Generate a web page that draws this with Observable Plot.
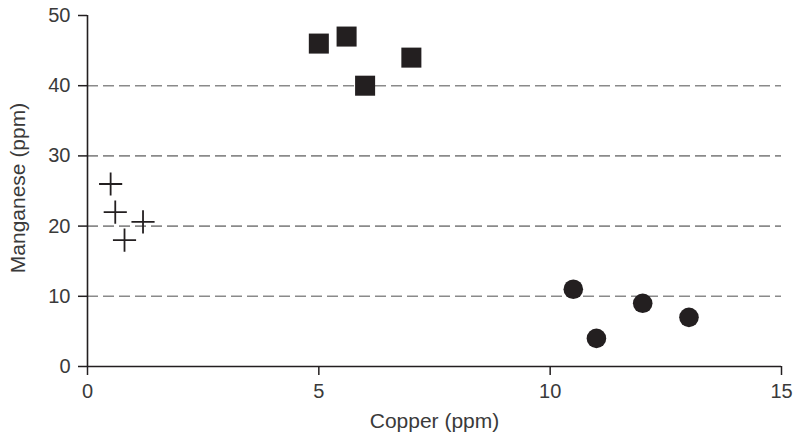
<!DOCTYPE html>
<html>
<head>
<meta charset="utf-8">
<script src="https://cdn.jsdelivr.net/npm/d3@7"></script>
<script src="https://cdn.jsdelivr.net/npm/@observablehq/plot@0.6"></script>
<style>
  html, body { margin: 0; padding: 0; background: #fff; }
  #chart svg { display: block; }
</style>
</head>
<body>
<div id="chart"></div>
<script>
// Data
const groups = ["cross", "square", "circle"];
const crossCopper = [0.5, 0.6, 0.8, 1.2];
const crossManganese = [26, 22, 18, 20.6];
const squareCopper = [5.0, 5.6, 6.0, 7.0];
const squareManganese = [46, 47, 40, 44];
const circleCopper = [10.5, 11.0, 12.0, 13.0];
const circleManganese = [11, 4, 9, 7];
const xTicks = [0, 5, 10, 15];
const yTicks = [0, 10, 20, 30, 40, 50];
const gridTicks = [10, 20, 30, 40];
const xLabel = "Copper (ppm)";
const yLabel = "Manganese (ppm)";

const toRows = (xs, ys) => xs.map((x, i) => ({copper: x, manganese: ys[i]}));
const crosses = toRows(crossCopper, crossManganese);
const squares = toRows(squareCopper, squareManganese);
const circles = toRows(circleCopper, circleManganese);

const ink = "#231f20";
const textInk = "#3a3a3a";

const chart = Plot.plot({
  width: 801,
  height: 437,
  marginLeft: 87,
  marginRight: 20,
  marginTop: 15,
  marginBottom: 71,
  style: {fontFamily: "'Liberation Sans', Arial, sans-serif", color: textInk, background: "#fff"},
  x: {domain: [0, 15]},
  y: {domain: [0, 50]},
  marks: [
    Plot.gridY(gridTicks, {stroke: "#8a8a8a", strokeOpacity: 1, strokeWidth: 1.6, strokeDasharray: "11,5"}),
    Plot.axisX(xTicks, {tickSize: 9, tickPadding: 8, fontSize: 20, stroke: ink, strokeWidth: 1.5, label: null}),
    Plot.axisY(yTicks, {tickSize: 9, tickPadding: 8, fontSize: 20, stroke: ink, strokeWidth: 1.5, label: null}),
    Plot.ruleX([0], {stroke: ink, strokeWidth: 1.6}),
    Plot.ruleY([0], {stroke: ink, strokeWidth: 1.6}),
    Plot.dot(crosses, {x: "copper", y: "manganese", symbol: "plus", r: 7.5, stroke: ink, strokeWidth: 1.8}),
    Plot.dot(squares, {x: "copper", y: "manganese", symbol: "square", r: 11.3, fill: ink, stroke: "none"}),
    Plot.dot(circles, {x: "copper", y: "manganese", symbol: "circle", r: 9.8, fill: ink, stroke: "none"}),
    Plot.text([xLabel], {frameAnchor: "bottom", dy: 55, lineAnchor: "middle", textAnchor: "middle", fontSize: 21, fill: textInk}),
    Plot.text([yLabel], {frameAnchor: "left", dx: -69, dy: -3, rotate: -90, lineAnchor: "middle", textAnchor: "middle", fontSize: 21, fill: textInk})
  ]
});
document.getElementById("chart").appendChild(chart);
</script>
</body>
</html>
